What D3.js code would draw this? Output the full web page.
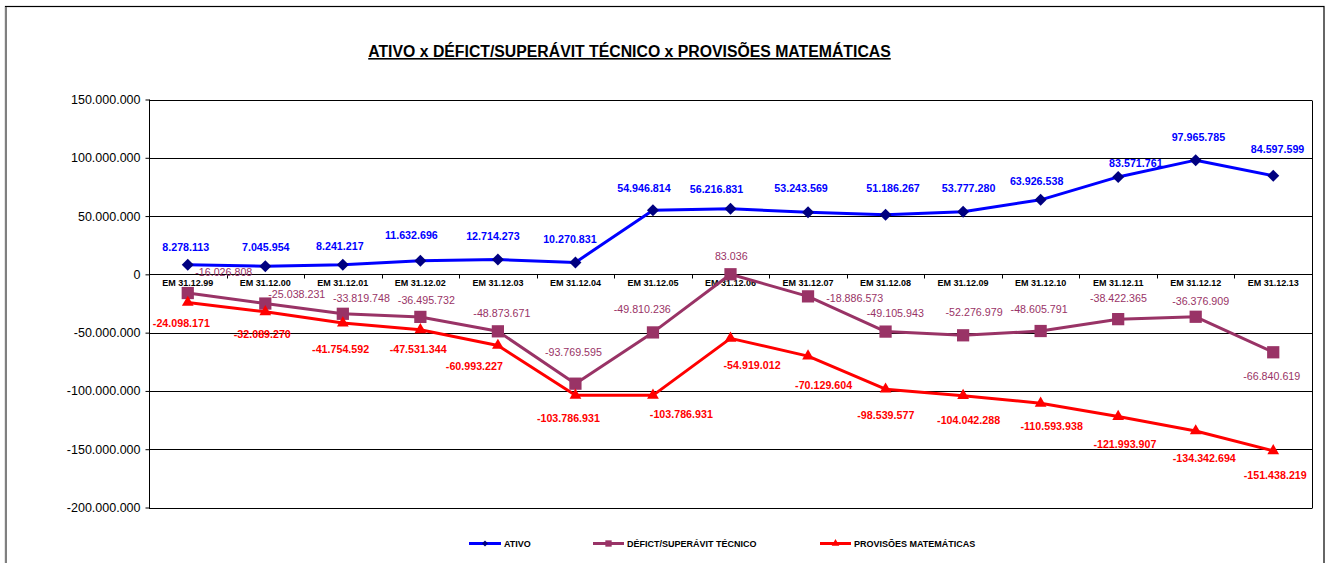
<!DOCTYPE html>
<html>
<head>
<meta charset="utf-8">
<script src="https://cdn.jsdelivr.net/npm/d3@7"></script>
<style>
  html, body { margin: 0; padding: 0; background: #fff; }
  svg { display: block; font-family: Arial, "Liberation Sans", sans-serif; }
</style>
</head>
<body>
<svg id="chart" width="1331" height="563"></svg>
<script>
// ---------- DATA ----------
const categories = ["EM 31.12.99","EM 31.12.00","EM 31.12.01","EM 31.12.02","EM 31.12.03","EM 31.12.04",
  "EM 31.12.05","EM 31.12.06","EM 31.12.07","EM 31.12.08","EM 31.12.09","EM 31.12.10","EM 31.12.11",
  "EM 31.12.12","EM 31.12.13"];
const ativo = [8278113, 7045954, 8241217, 11632696, 12714273, 10270831, 54946814, 56216831, 53243569,
  51186267, 53777280, 63926538, 83571761, 97965785, 84597599];
const deficit = [-16026808, -25038231, -33819748, -36495732, -48873671, -93769595, -49810236, 83036,
  -18886573, -49105943, -52276979, -48605791, -38422365, -36376909, -66840619];
const provisoes = [-24098171, -32089270, -41754592, -47531344, -60993227, -103786931, -103786931,
  -54919012, -70129604, -98539577, -104042288, -110593938, -121993907, -134342694, -151438219];
const yTicks = [150000000, 100000000, 50000000, 0, -50000000, -100000000, -150000000, -200000000];
const seriesNames = ["ATIVO", "DÉFICT/SUPERÁVIT TÉCNICO", "PROVISÕES MATEMÁTICAS"];
const title = "ATIVO x DÉFICT/SUPERÁVIT TÉCNICO x PROVISÕES MATEMÁTICAS";

// ---------- LAYOUT (label nudges, px relative to the point) ----------
const ativoNudge = [[-2,-17.6],[0.5,-18.5],[-3,-18.7],[-9,-25.7],[-5,-23.2],[-5.5,-23.7],[-9,-22.6],[-14,-20],
  [-7,-24.6],[7.5,-27],[5.5,-24],[-4,-18.2],[17.7,-13.5],[2.7,-23.1],[4.3,-26.1]];
const deficitNudge = [[36,-21],[31.5,-9.2],[18.6,-16],[6,-16.6],[4,-17.7],[-2,-31.6],[-10.7,-22.8],[0.75,-17.9],
  [46.7,1.3],[9.75,-18.6],[11,-22.7],[-1.5,-21.4],[0.25,-20.5],[5,-15.7],[-1.5,23.4]];
const provNudge = [[-6.4,20.2],[-3,22],[-2.2,26.3],[-2.2,19.6],[-23.5,20.9],[-7,22.7],[28.4,19.3],[21.6,26.3],
  [15.6,29.2],[0.25,26.1],[5.5,24.7],[11,22.7],[6.75,27.1],[8.6,26.7],[2,24.4]];

const svg = d3.select("#chart");
const plot = { left: 149, right: 1312, top: 99.5, bottom: 507.5 };

const fmt = v => {
  const s = Math.abs(v).toString().replace(/\B(?=(\d{3})+(?!\d))/g, ".");
  return (v < 0 ? "-" : "") + s;
};

// outer border
svg.append("rect").attr("x", 5.5).attr("y", 6.5).attr("width", 1318.5).attr("height", 600)
  .attr("fill", "#fff").attr("stroke", "#000").attr("stroke-width", 1.2);
svg.append("line").attr("x1", 6).attr("x2", 6).attr("y1", 7).attr("y2", 563)
  .attr("stroke", "#808080").attr("stroke-width", 2);

// title
svg.append("text").attr("x", 629.5).attr("y", 57).attr("text-anchor", "middle")
  .attr("font-size", 15.8).attr("font-weight", "bold").attr("fill", "#000")
  .attr("text-decoration", "underline").text(title);

// scales
const x = d3.scaleBand().domain(categories).range([plot.left, plot.right]).padding(0);
const y = d3.scaleLinear().domain([-200000000, 150000000]).range([plot.bottom, plot.top]);
const cx = c => x(c) + x.bandwidth() / 2;

// gridlines
svg.append("g").selectAll("line").data(yTicks).join("line")
  .attr("x1", plot.left).attr("x2", plot.right)
  .attr("y1", d => Math.round(y(d)) + 0.5).attr("y2", d => Math.round(y(d)) + 0.5)
  .attr("stroke", "#000").attr("stroke-width", 1);

// plot border right
svg.append("line").attr("x1", plot.right + 0.5).attr("x2", plot.right + 0.5)
  .attr("y1", Math.round(y(150000000)) + 0.5).attr("y2", Math.round(y(-200000000)) + 0.5)
  .attr("stroke", "#000");

// y axis
const yAxis = d3.axisLeft(y).tickValues(yTicks).tickSize(4).tickFormat(fmt);
const gy = svg.append("g").attr("transform", `translate(${plot.left + 0.5},0)`).call(yAxis);
gy.select(".domain").remove();
gy.append("line").attr("x1", 0).attr("x2", 0).attr("y1", y(150000000)).attr("y2", y(-200000000) + 0.5).attr("stroke", "#000");
gy.selectAll(".tick line").attr("stroke", "#000");
gy.selectAll(".tick text").attr("font-size", 12.5).attr("fill", "#000")
  .attr("font-family", "Arial, 'Liberation Sans', sans-serif").attr("x", -9);

// x axis on zero line
const zeroY = Math.round(y(0)) + 0.5;
const gx = svg.append("g").attr("transform", `translate(0,${zeroY})`);
const bounds = categories.map(c => x(c)).concat([plot.right]);
gx.selectAll("line.tk").data(bounds.slice(1, -1)).join("line").attr("class", "tk")
  .attr("x1", d => Math.round(d) + 0.5).attr("x2", d => Math.round(d) + 0.5)
  .attr("y1", 0).attr("y2", 4).attr("stroke", "#000");
gx.selectAll("text").data(categories).join("text")
  .attr("x", d => cx(d)).attr("y", 11.5).attr("text-anchor", "middle")
  .attr("font-size", 9).attr("font-weight", "bold").attr("fill", "#000").text(d => d);

// series
const series = [
  { name: seriesNames[0], values: ativo, line: "#0000FF", marker: "#000080", sym: d3.symbolSquare, rot: 45, size: 72, label: "#0000FF", weight: "bold", nudge: ativoNudge },
  { name: seriesNames[1], values: deficit, line: "#993366", marker: "#993366", sym: d3.symbolSquare, rot: 0, size: 150, label: "#993366", weight: "normal", nudge: deficitNudge },
  { name: seriesNames[2], values: provisoes, line: "#FF0000", marker: "#FF0000", sym: d3.symbolTriangle, rot: 0, size: 60, label: "#FF0000", weight: "bold", nudge: provNudge }
];

const lineGen = d3.line().x((d, i) => cx(categories[i])).y(d => y(d));
series.forEach(s => {
  const g = svg.append("g");
  g.append("path").datum(s.values).attr("d", lineGen).attr("fill", "none")
    .attr("stroke", s.line).attr("stroke-width", 3).attr("stroke-linejoin", "round");
  g.selectAll("path.m").data(s.values).join("path").attr("class", "m")
    .attr("transform", (d, i) => `translate(${cx(categories[i])},${y(d)}) rotate(${s.rot})`)
    .attr("d", d3.symbol(s.sym, s.size)).attr("fill", s.marker);
});
series.forEach(s => {
  svg.append("g").selectAll("text").data(s.values).join("text")
    .attr("x", (d, i) => cx(categories[i]) + s.nudge[i][0])
    .attr("y", (d, i) => y(d) + s.nudge[i][1])
    .attr("dy", "0.36em").attr("text-anchor", "middle")
    .attr("font-size", 10.7).attr("font-weight", s.weight).attr("fill", s.label)
    .text(d => fmt(d));
});

// legend
const legendItems = [
  { s: series[0], x1: 469, x2: 501, tx: 504, size: 18 },
  { s: series[1], x1: 593, x2: 624, tx: 627, size: 40 },
  { s: series[2], x1: 820, x2: 851, tx: 854, size: 25 }
];
const ly = 543.5;
const lg = svg.append("g");
legendItems.forEach(it => {
  lg.append("line").attr("x1", it.x1).attr("x2", it.x2).attr("y1", ly).attr("y2", ly)
    .attr("stroke", it.s.line).attr("stroke-width", 3);
  lg.append("path").attr("transform", `translate(${(it.x1 + it.x2) / 2},${ly}) rotate(${it.s.rot})`)
    .attr("d", d3.symbol(it.s.sym, it.size)).attr("fill", it.s.marker);
  lg.append("text").attr("x", it.tx).attr("y", ly).attr("dy", "0.36em")
    .attr("font-size", 9).attr("font-weight", "bold").attr("fill", "#000").text(it.s.name);
});
</script>
</body>
</html>
